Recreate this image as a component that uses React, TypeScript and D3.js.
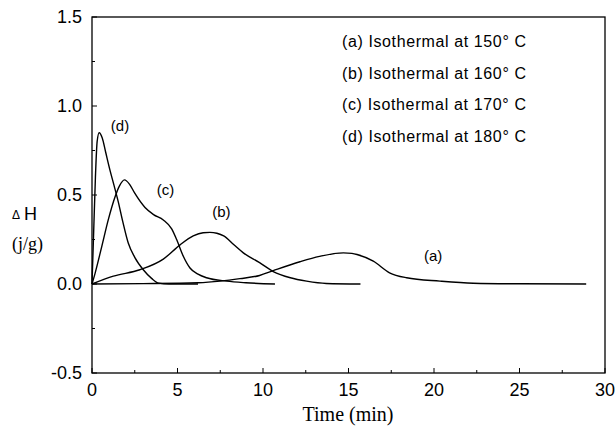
import React from "react";
import * as d3 from "d3";

type Pt = [number, number];

const curveA: Pt[] = [[0,0],[3,0.002],[6.2,0.007],[7.5,0.016],[8.65,0.03],[9.8,0.048],[10.6,0.075],[12.16,0.125],[13.3,0.155],[14.7,0.175],[15.2,0.172],[15.5,0.166],[16.45,0.128],[17.4,0.063],[18.4,0.035],[20.35,0.016],[22.3,0.004],[25,0.001],[28.9,0]];
const curveB: Pt[] = [[0,0],[1.25,0.044],[2.8,0.08],[4.17,0.14],[5.15,0.22],[5.92,0.27],[6.5,0.288],[6.9,0.29],[7.3,0.285],[7.7,0.27],[8.3,0.22],[8.85,0.175],[9.8,0.12],[10.6,0.07],[11.6,0.035],[12.55,0.016],[13.7,0.003],[15.7,0]];
const curveC: Pt[] = [[0,0],[0.18,0.06],[0.57,0.21],[0.95,0.36],[1.35,0.49],[1.6,0.55],[1.9,0.585],[2.2,0.56],[2.5,0.51],[3.1,0.43],[3.6,0.39],[4.17,0.36],[4.66,0.31],[4.95,0.25],[5.34,0.156],[5.73,0.09],[6.2,0.055],[6.7,0.035],[7.87,0.016],[9.0,0.007],[10.7,0]];
const curveD: Pt[] = [[0,0],[0.1,0.3],[0.2,0.6],[0.3,0.8],[0.42,0.85],[0.6,0.82],[0.8,0.74],[1.05,0.64],[1.3,0.55],[1.54,0.46],[1.8,0.35],[2.12,0.23],[2.5,0.15],[3.0,0.08],[3.5,0.03],[3.9,0.005],[4.5,0],[6.2,0]];

const seriesList = [curveA, curveB, curveC, curveD];
const curveLabels = ["(a)", "(b)", "(c)", "(d)"];
const curveLabelPos: Pt[] = [[19.95, 0.127], [7.57, 0.375], [4.3, 0.5], [1.64, 0.857]];
const legendItems = ["(a) Isothermal at 150° C", "(b) Isothermal at 160° C", "(c) Isothermal at 170° C", "(d) Isothermal at 180° C"];
const xMajor = [0, 5, 10, 15, 20, 25, 30];
const yMajor = [-0.5, 0.0, 0.5, 1.0, 1.5];

export default function App() {
  const W = 616, H = 441;
  const left = 92, right = 605, top = 17, bottom = 373;
  const x = d3.scaleLinear().domain([0, 30]).range([left, right]);
  const y = d3.scaleLinear().domain([-0.5, 1.5]).range([bottom, top]);
  const line = d3.line<Pt>().x(d => x(d[0])).y(d => y(d[1])).curve(d3.curveMonotoneX);
  const xMinor = d3.range(0, 30.01, 2.5);
  const yMinor = d3.range(-0.5, 1.501, 0.25);
  const sans = "Arial, 'Liberation Sans', sans-serif";
  const serif = "'Times New Roman', 'Liberation Serif', serif";
  return (
    <svg width={W} height={H} style={{ position: "absolute", left: 0, top: 0, background: "#fff" }}>
      <rect x={left} y={top} width={right - left} height={bottom - top} fill="none" stroke="#000" strokeWidth={1.3} />
      {xMinor.map((t, i) => (
        <line key={"xt" + i} x1={x(t)} x2={x(t)} y1={bottom} y2={bottom - (i % 2 === 0 ? 5 : 3)} stroke="#000" strokeWidth={1} />
      ))}
      {yMinor.map((v, i) => (
        <line key={"yt" + i} x1={left} x2={left + (i % 2 === 0 ? 5 : 3)} y1={y(v)} y2={y(v)} stroke="#000" strokeWidth={1} />
      ))}
      {xMajor.map(t => (
        <text key={"xl" + t} x={x(t)} y={396} textAnchor="middle" fontFamily={sans} fontSize={18}>{t}</text>
      ))}
      {yMajor.map(v => (
        <text key={"yl" + v} x={82} y={y(v) + 6} textAnchor="end" fontFamily={sans} fontSize={18}>{v.toFixed(1)}</text>
      ))}
      {seriesList.map((s, i) => (
        <path key={"c" + i} d={line(s) || ""} fill="none" stroke="#000" strokeWidth={1.4} />
      ))}
      {curveLabels.map((l, i) => (
        <text key={"cl" + i} x={x(curveLabelPos[i][0])} y={y(curveLabelPos[i][1])} textAnchor="middle" fontFamily={sans} fontSize={15}>{l}</text>
      ))}
      {legendItems.map((l, i) => (
        <text key={"lg" + i} x={342} y={47 + i * 31.7} fontFamily={sans} fontSize={16} textLength={184} lengthAdjust="spacing">{l}</text>
      ))}
      <text x={348} y={421} textAnchor="middle" fontFamily={serif} fontSize={20}>Time (min)</text>
      <text x={12} y={219} fontFamily={sans} fontSize={12}>Δ</text>
      <text x={24} y={220} fontFamily={sans} fontSize={18}>H</text>
      <text x={12} y={250} fontFamily={serif} fontSize={18}>(j/g)</text>
    </svg>
  );
}
